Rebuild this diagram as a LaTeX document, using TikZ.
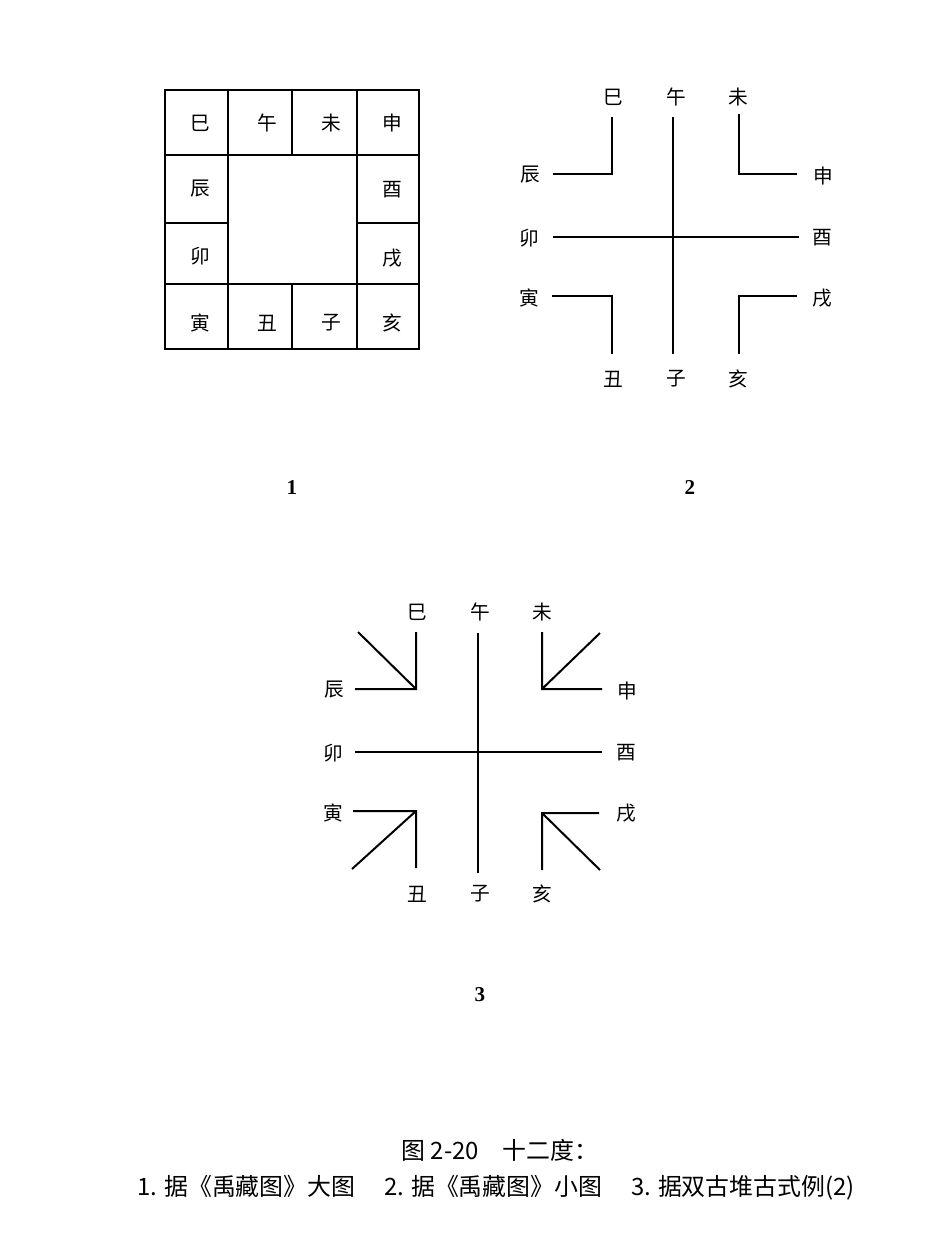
\documentclass[tikz,border=0pt]{standalone}
\usepackage{fontspec}
\setmainfont{Liberation Serif}
\newfontfamily\cjk{Noto Sans CJK SC}
\usetikzlibrary{positioning}
% twelve branch labels round a centre (cx,cy), node names prefixed by #3
\newcommand{\dizhi}[3]{%
  \foreach \nm/\dx/\dy/\tx in {si/-61/-140/巳,wu/2/-140/午,wei/64/-140/未,
      chen/-144/-62/辰,mao/-145/1/卯,yin/-145/61/寅,
      shen/149/-61/申,you/148/1/酉,xu/148/61/戌,
      chou/-61/142/丑,zi/2/142/子,hai/64/142/亥}
    {\node[zhi] (#3-\nm) at (#1+\dx,#2+\dy) {\tx};}}

\begin{document}
\begin{tikzpicture}[x=0.25mm,y=-0.25mm,
    ln/.style={line width=0.5mm},
    zhi/.style={font=\cjk\fontsize{14}{14}\selectfont,inner sep=0pt},
    num/.style={font=\bfseries\fontsize{15}{15}\selectfont,inner sep=0pt},
    captext/.style={font=\cjk\fontsize{17}{17}\selectfont,inner sep=0pt}]
  \useasboundingbox (0,0) rectangle (939,1236);
  % 1: grid of cells
  \draw[ln] (165,90) rectangle (419,349);
  \draw[ln] (165,155)--(419,155) (165,284)--(419,284);
  \draw[ln] (228,90)--(228,349) (357,90)--(357,349);
  \draw[ln] (292,90)--(292,155) (292,284)--(292,349);
  \draw[ln] (165,223)--(228,223) (357,223)--(419,223);
  \foreach \nm/\x/\y/\tx in {si/200/123/巳,wu/267/123/午,wei/331/123/未,shen/392/123/申,
      chen/200/189/辰,you/392/190/酉,mao/200/256/卯,xu/392/258/戌,
      yin/200/323/寅,chou/267/323/丑,zi/331/323/子,hai/392/323/亥}
    {\node[zhi] (a-\nm) at (\x,\y) {\tx};}
  \node[num] (n1) at (292,488) {1};
  % 2: cross with corner hooks
  \draw[ln] (673,117)--(673,354);
  \draw[ln] (553,237)--(799,237);
  \draw[ln] (553,174)--(612,174)--(612,117);
  \draw[ln] (739,114)--(739,174)--(797,174);
  \draw[ln] (552,296)--(612,296)--(612,354);
  \draw[ln] (797,296)--(739,296)--(739,354);
  \dizhi{674}{237}{b}
  \node[num] (n2) at (690,488) {2};
  % 3: cross with corner hooks and diagonals
  \draw[ln] (478,633)--(478,873);
  \draw[ln] (355,752)--(602,752);
  \draw[ln] (355,689)--(416,689)--(416,632) (358,632)--(416,689);
  \draw[ln] (542,632)--(542,689)--(602,689) (542,689)--(600,633);
  \draw[ln] (353,811)--(416,811)--(416,868) (416,811)--(352,869);
  \draw[ln] (599,813)--(542,813)--(542,870) (542,813)--(600,870);
  \dizhi{478}{752}{c}
  \node[num] (n3) at (480,995) {3};
  % caption
  \node[captext] (t1) at (500,1150) {图 2-20\hspace{1em}十二度：};
  \node[captext] (t2) at (496,1188) {1. 据《禹藏图》大图\hspace{1.2em}2. 据《禹藏图》小图\hspace{1.2em}3. 据双古堆古式例(2)};
\end{tikzpicture}
\end{document}
